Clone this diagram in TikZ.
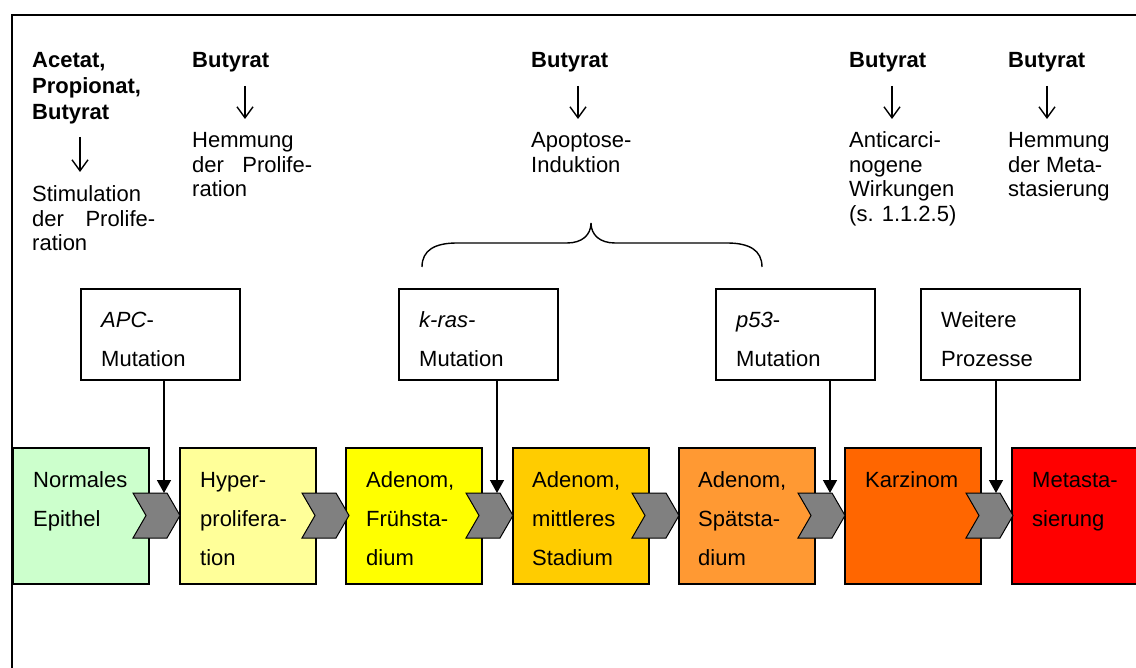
\documentclass[tikz,border=0pt]{standalone}
\usepackage{fontspec}
\setmainfont{Liberation Sans}
\usetikzlibrary{arrows.meta}
\definecolor{sA}{HTML}{CCFFCC}
\definecolor{sB}{HTML}{FFFF99}
\definecolor{sC}{HTML}{FFFF00}
\definecolor{sD}{HTML}{FFCC00}
\definecolor{sE}{HTML}{FF9933}
\definecolor{sF}{HTML}{FF6600}
\definecolor{sG}{HTML}{FF0000}
\definecolor{chevgray}{HTML}{808080}
\tikzset{
  stage/.style={draw=black, line width=1.5pt, minimum width=136pt, minimum height=136pt, anchor=north west, inner sep=0pt, outer sep=0pt},
  mutbox/.style={draw=black, line width=1.5pt, fill=white, minimum width=159pt, minimum height=91pt, anchor=north west, inner sep=0pt, outer sep=0pt},
  boxtxt/.style={anchor=base west, inner sep=0pt, font=\fontsize{22}{39}\selectfont},
  toptxt/.style={anchor=base west, inner sep=0pt, font=\fontsize{22}{24.5}\selectfont},
  boldtxt/.style={anchor=base west, inner sep=0pt, font=\fontsize{22}{26}\selectfont\bfseries},
  bigarr/.style={line width=1.5pt, -{Triangle[width=14pt,length=13pt]}},
  thinarr/.style={line width=1.4pt, -{Straight Barb[length=11pt,width=16pt,line width=1.4pt]}},
  chevron/.pic={\draw[fill=chevgray, draw=black, line width=1pt, line join=miter] (0,0)--(34,0)--(47,22.5)--(34,45)--(0,45)--(13,22.5)--cycle;}
}
\newcommand{\pb}[2]{\parbox[t]{#1}{#2}}
\begin{document}
\begin{tikzpicture}[x=1pt,y=-1pt]
\useasboundingbox (0,0) rectangle (1136,668);
\clip (0,0) rectangle (1136,668);
\fill[white] (0,0) rectangle (1136,668);
% frame
\draw[line width=2.5pt, line join=miter] (12,690) -- (12,15) -- (1160,15);

% top texts
\node[boldtxt] (b1) at (32,68) {\pb{140pt}{Acetat,\\Propionat,\\Butyrat}};
\node[toptxt] (r1) at (32,202) {\pb{123pt}{Stimulation\\\makebox[123pt][s]{der Prolife-}\\ration}};
\node[boldtxt] (b2) at (192,68) {Butyrat};
\node[toptxt] (r2) at (192,148) {\pb{120pt}{Hemmung\\\makebox[120pt][s]{der Prolife-}\\ration}};
\node[boldtxt] (b3) at (531,68) {Butyrat};
\node[toptxt] (r3) at (531,148) {\pb{120pt}{Apoptose-\\Induktion}};
\node[boldtxt] (b4) at (849,68) {Butyrat};
\node[toptxt] (r4) at (849,148) {\pb{130pt}{Anticarci-\\nogene\\Wirkungen\\(s. 1.1.2.5)}};
\node[boldtxt] (b5) at (1008,68) {Butyrat};
\node[toptxt] (r5) at (1008,148) {\pb{120pt}{Hemmung\\der Meta-\\stasierung}};

% thin arrows
\coordinate (t1s) at (80,137); \coordinate (t1e) at (80,172);
\coordinate (t2s) at (245,86); \coordinate (t2e) at (245,119);
\coordinate (t3s) at (578,86); \coordinate (t3e) at (578,119);
\coordinate (t4s) at (892,86); \coordinate (t4e) at (892,119);
\coordinate (t5s) at (1047,86); \coordinate (t5e) at (1047,119);
\draw[thinarr] (t1s) -- (t1e);
\draw[thinarr] (t2s) -- (t2e);
\draw[thinarr] (t3s) -- (t3e);
\draw[thinarr] (t4s) -- (t4e);
\draw[thinarr] (t5s) -- (t5e);

% brace
\draw[line width=1.4pt] (422,267) .. controls (422,250) and (435,243) .. (457,243) -- (567,243)
  .. controls (582,243) and (591,235) .. (591,223)
  .. controls (591,235) and (600,243) .. (615,243) -- (727,243)
  .. controls (749,243) and (762,250) .. (762,267);

% mutation boxes
\node[mutbox] (apc) at (81,289) {};
\node[mutbox] (kras) at (399,289) {};
\node[mutbox] (p53) at (716,289) {};
\node[mutbox] (weit) at (921,289) {};
\node[boxtxt] at (101,328) {\pb{130pt}{\textit{APC}-\\Mutation}};
\node[boxtxt] at (419,328) {\pb{130pt}{\textit{k-ras-}\\Mutation}};
\node[boxtxt] at (736,328) {\pb{130pt}{\textit{p53}-\\Mutation}};
\node[boxtxt] at (941,328) {\pb{130pt}{Weitere\\Prozesse}};

% stages
\node[stage, fill=sA] (s1) at (13,448) {};
\node[stage, fill=sB] (s2) at (180,448) {};
\node[stage, fill=sC] (s3) at (346,448) {};
\node[stage, fill=sD] (s4) at (513,448) {};
\node[stage, fill=sE] (s5) at (679,448) {};
\node[stage, fill=sF] (s6) at (845,448) {};
\node[stage, fill=sG] (s7) at (1012,448) {};
\node[boxtxt] at (33,487) {\pb{120pt}{Normales\\Epithel}};
\node[boxtxt] at (200,487) {\pb{120pt}{Hyper-\\prolifera-\\tion}};
\node[boxtxt] at (366,487) {\pb{120pt}{Adenom,\\Frühsta-\\dium}};
\node[boxtxt] at (532,487) {\pb{120pt}{Adenom,\\mittleres\\Stadium}};
\node[boxtxt] at (698,487) {\pb{120pt}{Adenom,\\Spätsta-\\dium}};
\node[boxtxt] at (865,487) {\pb{120pt}{Karzinom}};
\node[boxtxt] at (1032,487) {\pb{120pt}{Metasta-\\sierung}};

% chevrons
\pic at (133,493) {chevron};
\pic at (302,493) {chevron};
\pic at (466,493) {chevron};
\pic at (632,493) {chevron};
\pic at (798,493) {chevron};
\pic at (966,493) {chevron};

% mutation arrows
\coordinate (a1) at (164,493);
\coordinate (a2) at (497,493);
\coordinate (a3) at (830,493);
\coordinate (a4) at (996,493);
\draw[bigarr] (apc.south -| a1) -- (a1);
\draw[bigarr] (kras.south -| a2) -- (a2);
\draw[bigarr] (p53.south -| a3) -- (a3);
\draw[bigarr] (weit.south -| a4) -- (a4);
\end{tikzpicture}
\end{document}
